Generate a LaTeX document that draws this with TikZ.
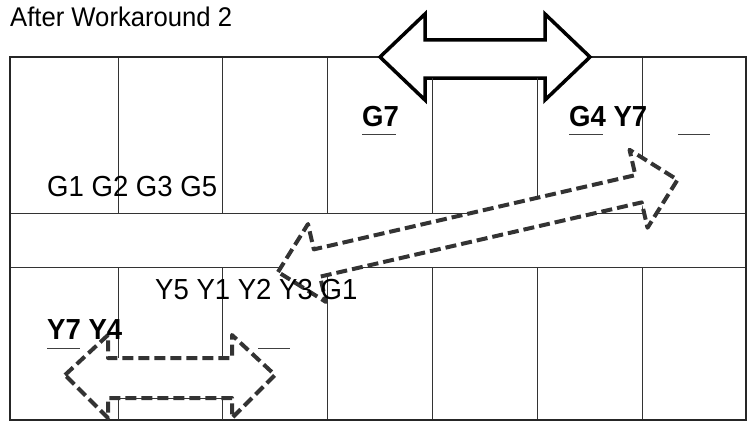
\documentclass[tikz,border=0pt]{standalone}
\usepackage{fontspec}
\setmainfont{Liberation Sans}
\begin{document}
\begin{tikzpicture}[x=1pt,y=-1pt,
  wall/.style={line width=0.9pt,draw=black!80},
  frame/.style={line width=2pt,draw=black!85},
  lbl/.style={anchor=base west,inner sep=0pt,xscale=0.95,font=\fontsize{29}{32}\selectfont},
  blbl/.style={lbl,font=\fontsize{29}{32}\selectfont\bfseries},
  uline/.style={line width=1pt,draw=black!75},
  dasharrow/.style={line width=4pt,draw=black!80,dash pattern=on 11pt off 5pt,fill=white,line join=round}]
\useasboundingbox (0,0) rectangle (751,428);
% walls
\draw[wall] (10,213) -- (746,213) (10,267) -- (746,267);
\foreach \x in {118,222,327,432,537,642}{
  \draw[wall] (\x,57) -- (\x,213);
  \draw[wall] (\x,267) -- (\x,420);
}
\draw[frame] (10,57) rectangle (746,420);
% top solid double arrow
\draw[line width=3.5pt,fill=white,line join=miter] (380,57) -- (425,14) -- (425,40) -- (545,40) -- (545,14) -- (590,57) -- (545,100) -- (545,78) -- (425,78) -- (425,100) -- cycle;
\draw[wall] (432,78) -- (432,110) (537,78) -- (537,110);
% bottom dashed double arrow
\draw[dasharrow] (65,375) -- (108,335) -- (108,358) -- (232,358) -- (232,335) -- (275,375) -- (232,418) -- (232,398) -- (108,398) -- (108,418) -- cycle;
\draw[wall] (118,398) -- (222,398) (118,398) -- (118,420) (222,398) -- (222,420);
% diagonal dashed double arrow
\begin{scope}[shift={(278,272)},rotate=13]
\draw[dasharrow] (0,0) -- (40,-40) -- (40,-14) -- (370,-14) -- (370,-40) -- (410,0) -- (370,40) -- (370,14) -- (40,14) -- (40,40) -- cycle;
\end{scope}
% labels
\node[lbl,font=\fontsize{27}{30}\selectfont] (t) at (10,27) {After Workaround 2};
\node[blbl] (g7) at (362,126) {G7};
\node[blbl] (g4) at (569,126) {G4 Y7};
\node[lbl] (g1) at (47,196) {G1 G2 G3 G5};
\node[lbl] (y5) at (155,299) {Y5 Y1 Y2 Y3 G1};
\node[blbl] (y7) at (47,339) {Y7 Y4};
\draw[uline] (362,134) -- (396,134) (569,134) -- (603,134) (678,134) -- (710,134);
\draw[uline] (47,348) -- (80,348) (258,348) -- (290,348);
\end{tikzpicture}
\end{document}
